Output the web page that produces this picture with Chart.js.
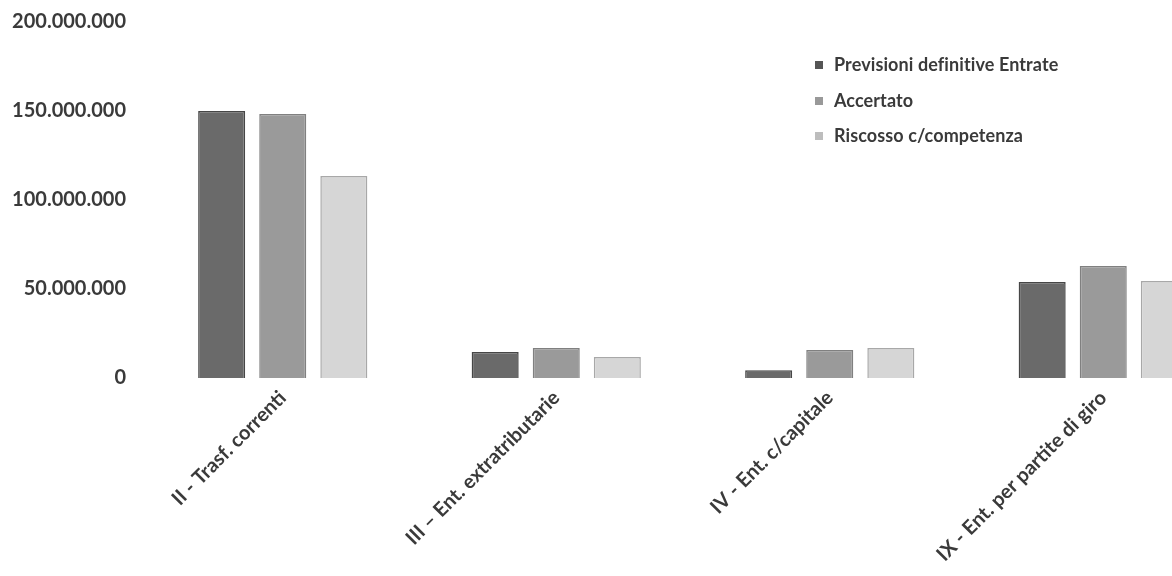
<!DOCTYPE html>
<html>
<head>
<meta charset="utf-8">
<script src="https://cdn.jsdelivr.net/npm/chart.js@4.4.1/dist/chart.umd.min.js"></script>
<style>
  html, body { margin: 0; padding: 0; background: #fff; overflow: hidden; width: 1172px; height: 576px; }
  #wrap { position: relative; width: 1240px; height: 576px; }
  #legend { position: absolute; left: 815px; top: 53px; font-family: Lato, sans-serif; font-weight: 700; font-size: 18px; color: #3a3a3a; letter-spacing: 0.1px; }
  #legend .item { height: 35.5px; display: flex; align-items: flex-start; }
  #legend .sw { width: 8px; height: 8px; margin-right: 11px; margin-top: 8px; }
</style>
</head>
<body>
<div id="wrap">
  <canvas id="c" width="1240" height="576"></canvas>
  <div id="legend"></div>
</div>
<script>
const categories = ["II - Trasf. correnti", "III – Ent. extratributarie", "IV - Ent. c/capitale", "IX - Ent. per partite di giro"];
const seriesNames = ["Previsioni definitive Entrate", "Accertato", "Riscosso c/competenza"];
const previsioni = [150000000, 14600000, 4300000, 53900000];
const accertato = [148300000, 16900000, 15700000, 62900000];
const riscosso = [113500000, 11800000, 16900000, 54500000];
const yTicks = [0, 50000000, 100000000, 150000000, 200000000];

const fills = ["#6a6a6a", "#9a9a9a", "#d6d6d6"];
const borders = ["#464646", "#808080", "#a8a8a8"];
const legendSw = ["#555555", "#999999", "#bdbdbd"];

function fmt(v) {
  return v.toString().replace(/\B(?=(\d{3})+(?!\d))/g, ".");
}

const values = [previsioni, accertato, riscosso];
const chart = new Chart(document.getElementById("c"), {
  type: "bar",
  data: {
    labels: categories,
    datasets: seriesNames.map((n, i) => ({
      label: n,
      data: values[i],
      backgroundColor: fills[i],
      borderColor: borders[i],
      borderWidth: 1.5,
      categoryPercentage: 0.67,
      barPercentage: 0.77
    }))
  },
  options: {
    responsive: false,
    animation: false,
    layout: { padding: { top: 22, left: 0, right: 0, bottom: 0 } },
    plugins: { legend: { display: false }, tooltip: { enabled: false } },
    scales: {
      x: {
        grid: { display: false, drawTicks: false },
        border: { display: false },
        ticks: {
          autoSkip: false, minRotation: 45, maxRotation: 45, padding: 8,
          color: "#3a3a3a",
          font: { family: "Lato", size: 20, weight: "bold" }
        },
        afterFit: (s) => { s.height = 198; s.paddingTop = 0; s.paddingBottom = 0; s.paddingRight = 0; }
      },
      y: {
        min: 0, max: 200000000,
        grid: { display: false, drawTicks: false },
        border: { display: false },
        afterBuildTicks: (s) => { s.ticks = yTicks.map(v => ({ value: v })); },
        ticks: {
          padding: 20,
          color: "#3a3a3a",
          font: { family: "Lato", size: 20, weight: "bold" },
          callback: (v) => fmt(v)
        },
        afterFit: (s) => { s.width = 146; s.paddingTop = 0; s.paddingBottom = 0; }
      }
    }
  }
});

const lg = document.getElementById("legend");
seriesNames.forEach((n, i) => {
  const d = document.createElement("div");
  d.className = "item";
  const sw = document.createElement("span");
  sw.className = "sw";
  sw.style.background = legendSw[i];
  const t = document.createElement("span");
  t.textContent = n;
  d.appendChild(sw); d.appendChild(t);
  lg.appendChild(d);
});
</script>
</body>
</html>
